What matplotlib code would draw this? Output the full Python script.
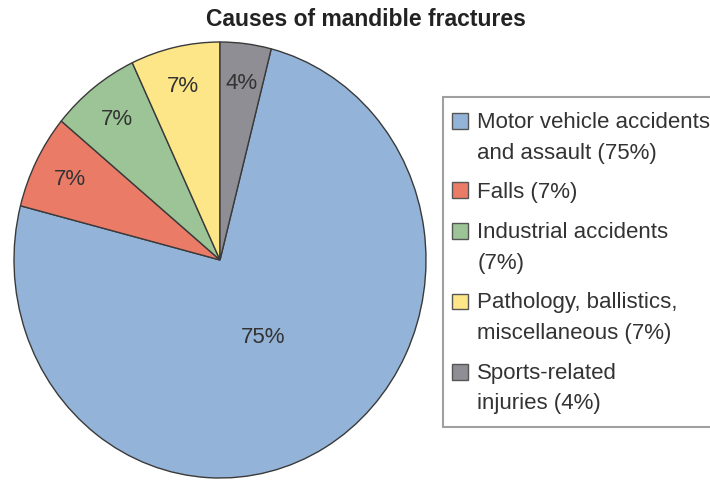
import matplotlib
matplotlib.use("Agg")
import matplotlib.pyplot as plt
from matplotlib.patches import Rectangle
from matplotlib.legend_handler import HandlerPatch
import numpy as np

plt.rcParams['font.family'] = ['Liberation Sans', 'DejaVu Sans']

categories = ["Motor vehicle accidents\nand assault (75%)",
              "Falls (7%)",
              "Industrial accidents\n(7%)",
              "Pathology, ballistics,\nmiscellaneous (7%)",
              "Sports-related\ninjuries (4%)"]
values = [75, 7, 7, 7, 4]
pct_labels = ["75%", "7%", "7%", "7%", "4%"]
colors = ["#93b3d8", "#e97b67", "#9dc497", "#fde687", "#8e8e94"]

W, H = 710, 481
fig = plt.figure(figsize=(W / 100, H / 100), dpi=100)
ax = fig.add_axes([0, 0, 1, 1])

start = 90 - 360 * values[-1] / sum(values)
wedges, _ = ax.pie(values, colors=colors, startangle=start, counterclock=False,
                   wedgeprops=dict(edgecolor="#3a3a3a", linewidth=1.0))

# percentage labels
for w, lab, v in zip(wedges, pct_labels, values):
    th = np.deg2rad((w.theta1 + w.theta2) / 2)
    r = 0.41 if v > 50 else 0.82
    ax.text(r * np.cos(th), r * np.sin(th), lab, ha="center", va="center",
            fontsize=16, color="#333333")

# elliptical layout matching the reference
cx, cy, rx, ry = 220, H - 261, 206, 218
ax.set_aspect("auto")
ax.set_xlim(-cx / rx, (W - cx) / rx)
ax.set_ylim(-cy / ry, (H - cy) / ry)
ax.axis("off")

fig.text(366 / W, 1 - 20 / H, "Causes of mandible fractures", ha="center",
         va="center", fontsize=16.5, fontweight="bold", color="#222222")


class TopHandler(HandlerPatch):
    def __init__(self, shift, xshift=0.0, **kw):
        super().__init__(**kw)
        self.shift = shift
        self.xshift = xshift

    def create_artists(self, legend, orig_handle, xdescent, ydescent, width,
                       height, fontsize, trans):
        p = Rectangle((-xdescent + self.xshift, -ydescent + self.shift),
                      width, height,
                      facecolor=orig_handle.get_facecolor(),
                      edgecolor="#555555", linewidth=1.0, transform=trans)
        return [p]


fs = 16
ls = 1.58
handles = [Rectangle((0, 0), 1, 1, facecolor=c) for c in colors]
hmap = {}
for h, lab in zip(handles, categories):
    n = lab.count("\n")
    hmap[h] = TopHandler(shift=0.5 * n * ls * fs * 0.9, xshift=-3.6)

leg = fig.legend(handles, categories, handler_map=hmap,
                 loc="upper left", bbox_to_anchor=(443 / W, 1 - 98 / H),
                 bbox_transform=fig.transFigure, fontsize=fs, frameon=True,
                 fancybox=False, edgecolor="#888888", borderaxespad=0,
                 handlelength=0.72, handleheight=0.72, handletextpad=0.18,
                 labelspacing=0.85, borderpad=0.64, labelcolor="#333333")
leg.get_frame().set_linewidth(1.5)
for t in leg.get_texts():
    t.set_linespacing(ls)

fig.savefig("out.png", dpi=100)
